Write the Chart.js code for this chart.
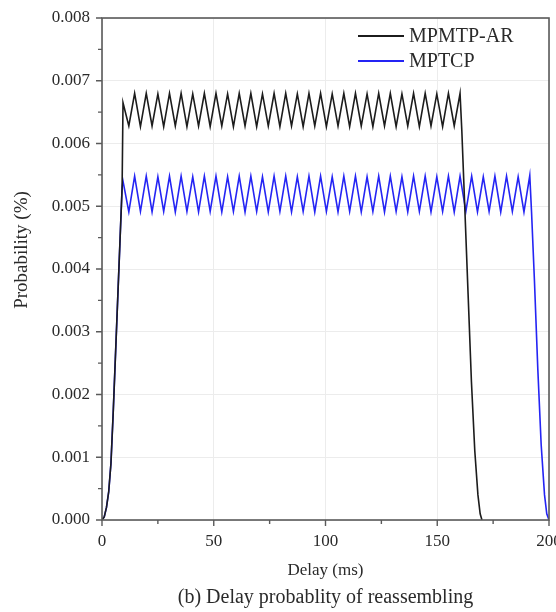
<!DOCTYPE html>
<html>
<head>
<meta charset="utf-8">
<script src="https://cdn.jsdelivr.net/npm/chart.js@4.4.1/dist/chart.umd.min.js"></script>
<style>
html,body{margin:0;padding:0;background:#fff;overflow:hidden;}
#wrap{width:556px;height:612px;position:relative;overflow:hidden;}
</style>
</head>
<body>
<div id="wrap"><canvas id="c" width="572" height="612"></canvas></div>
<script>
// ---- data ----
const seriesNames = ["MPMTP-AR", "MPTCP"];
const xTicks = [0, 50, 100, 150, 200];
const yTicks = [0.000, 0.001, 0.002, 0.003, 0.004, 0.005, 0.006, 0.007, 0.008];
const captionText = "(b) Delay probablity of reassembling";
const xTitle = "Delay (ms)";
const yTitle = "Probability (%)";

const mpmtpX = [0,1,2,3,4,5,6,7,8,9,
  9.4,12.0,14.6,17.2,19.8,22.4,25.0,27.6,30.2,32.8,35.4,38.0,40.6,43.2,45.8,48.4,51.0,53.6,56.2,58.8,
  61.4,64.0,66.6,69.2,71.8,74.4,77.0,79.6,82.2,84.8,87.4,90.0,92.6,95.2,97.8,100.4,103.0,105.6,108.2,110.8,
  113.4,116.0,118.6,121.2,123.8,126.4,129.0,131.6,134.2,136.8,139.4,142.0,144.6,147.2,149.8,152.4,155.0,157.6,160.2,
  161.0,162.3,163.8,165.3,166.8,168.2,169.2,170.0];
const mpmtpY = [0,0.00005,0.0002,0.00045,0.0009,0.0017,0.0026,0.0035,0.0044,0.0053,
  0.00665,0.00628,0.0068,0.00627,0.0068,0.00628,0.00679,0.00627,0.0068,0.00628,0.0068,0.00627,0.00679,0.00628,0.0068,0.00627,0.0068,0.00628,0.00679,0.00627,
  0.0068,0.00628,0.0068,0.00627,0.00679,0.00628,0.0068,0.00627,0.0068,0.00628,0.00679,0.00627,0.0068,0.00628,0.0068,0.00627,0.00679,0.00628,0.0068,0.00627,
  0.0068,0.00628,0.00679,0.00627,0.0068,0.00628,0.0068,0.00627,0.00679,0.00628,0.0068,0.00627,0.0068,0.00628,0.00679,0.00627,0.0068,0.00628,0.0068,
  0.0062,0.0050,0.0036,0.0022,0.0011,0.0004,0.0001,0];

const mptcpX = [0,1,2,3,4,5,6,7,8,9,
  9.4,12.0,14.6,17.2,19.8,22.4,25.0,27.6,30.2,32.8,35.4,38.0,40.6,43.2,45.8,48.4,51.0,53.6,56.2,58.8,
  61.4,64.0,66.6,69.2,71.8,74.4,77.0,79.6,82.2,84.8,87.4,90.0,92.6,95.2,97.8,100.4,103.0,105.6,108.2,110.8,
  113.4,116.0,118.6,121.2,123.8,126.4,129.0,131.6,134.2,136.8,139.4,142.0,144.6,147.2,149.8,152.4,155.0,157.6,160.2,
  162.8,165.4,168.0,170.6,173.2,175.8,178.4,181.0,183.6,186.2,188.8,191.4,
  192.2,193.5,195.0,196.5,198.0,199.0,200.0];
const mptcpY = [0,0.00005,0.0002,0.00045,0.0009,0.0017,0.0026,0.0035,0.0044,0.0053,
  0.0054,0.00491,0.00548,0.00492,0.00548,0.00491,0.00547,0.00492,0.00548,0.00491,0.00548,0.00492,0.00547,0.00491,0.00548,0.00492,0.00548,0.00491,0.00547,0.00492,
  0.00548,0.00491,0.00548,0.00492,0.00547,0.00491,0.00548,0.00492,0.00548,0.00491,0.00547,0.00492,0.00548,0.00491,0.00548,0.00492,0.00547,0.00491,0.00548,0.00492,
  0.00548,0.00491,0.00547,0.00492,0.00548,0.00491,0.00548,0.00492,0.00547,0.00491,0.00548,0.00492,0.00548,0.00491,0.00547,0.00492,0.00548,0.00491,0.00548,
  0.00492,0.00548,0.00491,0.00547,0.00492,0.00548,0.00491,0.00548,0.00492,0.00547,0.00491,0.00549,
  0.0049,0.0038,0.0024,0.0012,0.0004,0.0001,0];

// ---- styles ----
const SERIF = "'Liberation Serif','Times New Roman',serif";
const TEXT = '#2a2a2a';
const AXIS = '#5a5a5a';
const colors = ['#1c1c1c', '#2424f4'];

const pts = (xs, ys) => xs.map((x, i) => ({x: x, y: ys[i]}));

const framePlugin = {
  id: 'frame',
  afterDraw(chart) {
    const ctx = chart.ctx, a = chart.chartArea;
    const xs = chart.scales.x, ys = chart.scales.y;
    ctx.save();
    ctx.strokeStyle = AXIS;
    ctx.lineWidth = 1.6;
    ctx.strokeRect(a.left, a.top, a.right - a.left, a.bottom - a.top);
    // ticks (major + minor), outward
    ctx.lineWidth = 1.4;
    ctx.beginPath();
    for (let i = 0; i < xTicks.length; i++) {
      const px = xs.getPixelForValue(xTicks[i]);
      ctx.moveTo(px, a.bottom); ctx.lineTo(px, a.bottom + 6);
      if (i < xTicks.length - 1) {
        const mx = xs.getPixelForValue((xTicks[i] + xTicks[i + 1]) / 2);
        ctx.moveTo(mx, a.bottom); ctx.lineTo(mx, a.bottom + 4);
      }
    }
    for (let i = 0; i < yTicks.length; i++) {
      const py = ys.getPixelForValue(yTicks[i]);
      ctx.moveTo(a.left, py); ctx.lineTo(a.left - 6, py);
      if (i < yTicks.length - 1) {
        const my = ys.getPixelForValue((yTicks[i] + yTicks[i + 1]) / 2);
        ctx.moveTo(a.left, my); ctx.lineTo(a.left - 4, my);
      }
    }
    ctx.stroke();
    // legend inside plot
    ctx.font = '20px ' + SERIF;
    ctx.textBaseline = 'middle';
    ctx.textAlign = 'left';
    chart.data.datasets.forEach((ds, i) => {
      const y = 36 + i * 25;
      ctx.strokeStyle = ds.borderColor;
      ctx.lineWidth = 1.8;
      ctx.beginPath(); ctx.moveTo(358, y); ctx.lineTo(404, y); ctx.stroke();
      ctx.fillStyle = TEXT;
      ctx.fillText(ds.label, 409, y + 1);
    });
    // y axis title
    ctx.save();
    ctx.font = '19px ' + SERIF;
    ctx.textAlign = 'center';
    ctx.translate(22, 250);
    ctx.rotate(-Math.PI / 2);
    ctx.fillText(yTitle, 0, 0);
    ctx.restore();
    // caption
    ctx.font = '20px ' + SERIF;
    ctx.textAlign = 'center';
    ctx.textBaseline = 'middle';
    ctx.fillText(captionText, (a.left + a.right) / 2, 598);
    ctx.restore();
  }
};

new Chart(document.getElementById('c'), {
  type: 'line',
  data: {
    datasets: [
      {label: seriesNames[0], data: pts(mpmtpX, mpmtpY), borderColor: colors[0], borderWidth: 1.6, pointRadius: 0, tension: 0, fill: false},
      {label: seriesNames[1], data: pts(mptcpX, mptcpY), borderColor: colors[1], borderWidth: 1.6, pointRadius: 0, tension: 0, fill: false}
    ]
  },
  options: {
    responsive: false,
    animation: false,
    devicePixelRatio: 1,
    layout: {padding: {left: 0, right: 23, top: 18, bottom: 27}},
    plugins: {legend: {display: false}, tooltip: {enabled: false}},
    scales: {
      x: {
        type: 'linear', min: 0, max: 200,
        afterBuildTicks(s) { s.ticks = xTicks.map(v => ({value: v})); },
        afterFit(s) { s.height = 65; },
        grid: {color: '#ececec', lineWidth: 1, drawTicks: true, tickLength: 8, tickColor: 'rgba(0,0,0,0)'},
        border: {display: false},
        ticks: {font: {family: SERIF, size: 17}, color: TEXT, padding: 3, maxRotation: 0},
        title: {display: true, text: xTitle, font: {family: SERIF, size: 17}, color: TEXT}
      },
      y: {
        type: 'linear', min: 0, max: 0.008,
        afterBuildTicks(s) { s.ticks = yTicks.map(v => ({value: v})); },
        afterFit(s) { s.width = 102; },
        grid: {color: '#ececec', lineWidth: 1, drawTicks: true, tickLength: 8, tickColor: 'rgba(0,0,0,0)'},
        border: {display: false},
        ticks: {font: {family: SERIF, size: 17}, color: TEXT, padding: 4, callback: v => v.toFixed(3)},
        title: {display: false}
      }
    }
  },
  plugins: [framePlugin]
});
</script>
</body>
</html>
